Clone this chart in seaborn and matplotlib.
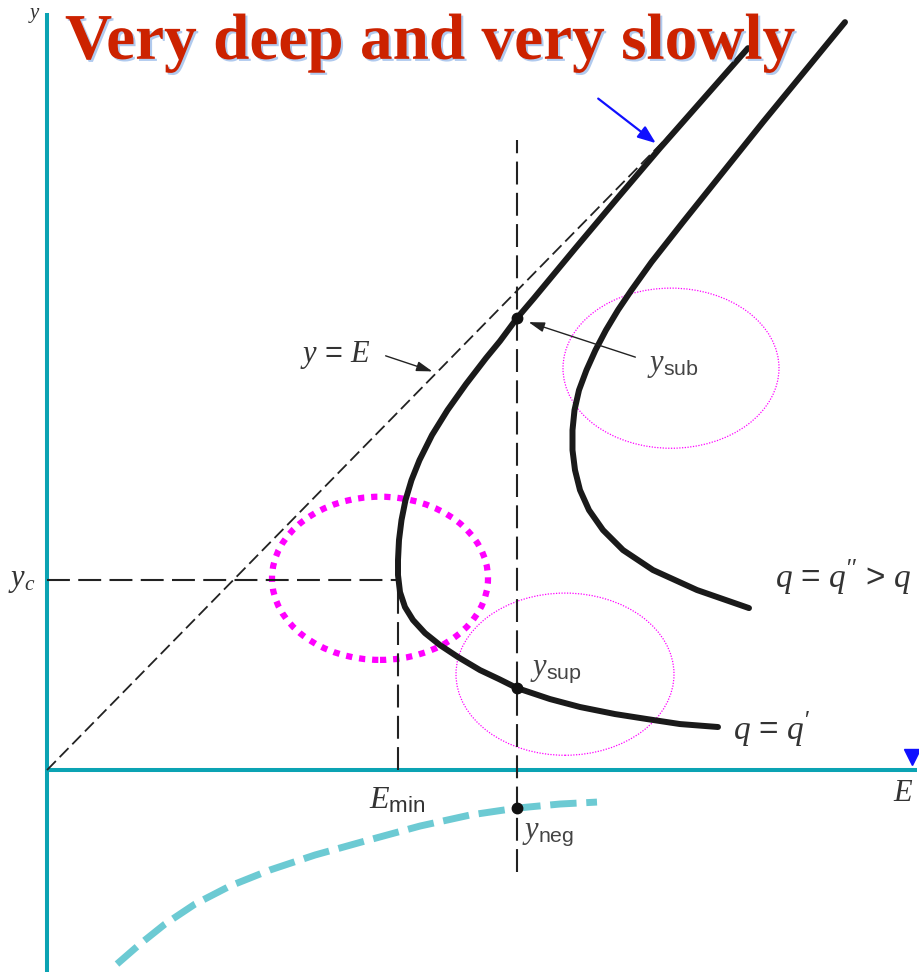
import matplotlib
matplotlib.use("Agg")
import matplotlib.pyplot as plt
import matplotlib.patheffects as pe
from matplotlib.patches import Ellipse
import pandas as pd
import seaborn as sns

# ---- specific-energy diagram data (E horizontal, depth y vertical) ----
# q = q' curve (upper = subcritical branch, lower = supercritical branch)
qp_E = [7.01, 6.57, 6.13, 5.705, 5.285, 4.87, 4.70, 4.53, 4.39, 4.19, 4.005, 3.85,
        3.725, 3.645, 3.585, 3.545, 3.52, 3.51, 3.51, 3.53, 3.58, 3.66, 3.78, 3.93,
        4.11, 4.33, 4.52, 4.70, 5.03, 5.33, 5.68, 6.00, 6.33, 6.71]
qp_y = [7.078, 6.588, 6.098, 5.608, 5.118, 4.627, 4.431, 4.206, 4.039, 3.784, 3.529,
        3.284, 3.039, 2.843, 2.647, 2.451, 2.255, 2.059, 1.912, 1.745, 1.598, 1.471,
        1.343, 1.225, 1.108, 0.980, 0.892, 0.804, 0.696, 0.618, 0.549, 0.500, 0.451,
        0.422]

# q = q'' curve
qpp_E = [7.98, 7.57, 7.16, 6.76, 6.36, 6.045, 5.845, 5.71, 5.59, 5.485, 5.395, 5.32,
         5.275, 5.255, 5.255, 5.28, 5.33, 5.42, 5.56, 5.76, 6.06, 6.50, 7.02]
qpp_y = [7.333, 6.843, 6.353, 5.863, 5.373, 4.980, 4.706, 4.510, 4.314, 4.118, 3.922,
         3.725, 3.529, 3.333, 3.137, 2.941, 2.745, 2.549, 2.353, 2.157, 1.961, 1.765,
         1.588]

# negative-depth branch
neg_E = [0.70, 0.93, 1.18, 1.48, 1.83, 2.23, 2.68, 3.18, 3.73, 4.23, 4.70, 5.13, 5.50]
neg_y = [-1.902, -1.706, -1.510, -1.314, -1.137, -0.980, -0.833, -0.696, -0.549,
         -0.441, -0.373, -0.333, -0.314]

# key values
E_min = 3.51
y_c = 1.86
E_sec = 4.70
y_sub, y_sup, y_neg = 4.431, 0.804, -0.373
yE_end = 6.27

# ---- style ----
sns.set_theme(style="white")
plt.rcParams["font.family"] = ["Liberation Serif", "DejaVu Sans"]
plt.rcParams["mathtext.fontset"] = "custom"
plt.rcParams["mathtext.it"] = "Liberation Serif:italic"
plt.rcParams["mathtext.rm"] = "Liberation Sans"
plt.rcParams["mathtext.sf"] = "Liberation Sans"
plt.rcParams["mathtext.bf"] = "Liberation Serif:bold"

AXIS_C = "#0ba3b3"
NEG_C = "#6ccad3"
CURVE_C = "#1a1a1a"
TXT_C = "#333333"
MAG = "#ff00ff"

fig = plt.figure(figsize=(9.2, 9.72), dpi=100)
ax = fig.add_axes([0, 0, 1, 1])
ax.set_xlim(-0.47, 8.73)
ax.set_ylim(-1.98, 7.55)
ax.axis("off")

# coordinate axes
ax.plot([0, 0], [-1.98, 7.42], color=AXIS_C, lw=2.9, solid_capstyle="butt", zorder=2)
ax.plot([0, 8.70], [0, 0], color=AXIS_C, lw=2.9, solid_capstyle="butt", zorder=2)
ax.plot([8.65], [0.13], marker="v", markersize=12, color="#1010ff", zorder=3,
        clip_on=False)

# y = E reference line and guide lines
ax.plot([0, yE_end], [0, yE_end], color="#222222", lw=1.3, dashes=[7, 3], zorder=3)
ax.plot([0, E_min], [y_c, y_c], color="#222222", lw=1.5, dashes=[11, 4], zorder=3)
ax.plot([E_min, E_min], [0, y_c], color="#222222", lw=1.5, dashes=[11, 4], zorder=3)
ax.plot([E_sec, E_sec], [-1.00, 6.18], color="#222222", lw=1.5, dashes=[11, 4], zorder=3)

# highlight ellipses
ax.add_patch(Ellipse((3.33, 1.88), 2.16, 1.60, fill=False, ec=MAG, lw=4.5,
                     linestyle=(0, (1, 1.1)), zorder=2))
ax.add_patch(Ellipse((6.24, 3.94), 2.16, 1.57, fill=False, ec=MAG, lw=0.9,
                     linestyle=(0, (1, 1.2)), zorder=2))
ax.add_patch(Ellipse((5.18, 0.94), 2.18, 1.59, fill=False, ec=MAG, lw=0.9,
                     linestyle=(0, (1, 1.2)), zorder=2))

# energy curves
curves = {
    "qp": pd.DataFrame({"E": qp_E, "y": qp_y}),
    "qpp": pd.DataFrame({"E": qpp_E, "y": qpp_y}),
}
for df in curves.values():
    sns.lineplot(data=df, x="E", y="y", sort=False, estimator=None, ax=ax,
                 color=CURVE_C, lw=4.3, solid_capstyle="round",
                 solid_joinstyle="round", zorder=4)

neg_df = pd.DataFrame({"E": neg_E, "y": neg_y})
sns.lineplot(data=neg_df, x="E", y="y", sort=False, estimator=None, ax=ax,
             color=NEG_C, lw=5, zorder=4)
ax.lines[-1].set_dashes([3.8, 1.4])
ax.lines[-1].set_dash_capstyle("butt")

# alternate depths
ax.plot([E_sec] * 3, [y_sub, y_sup, y_neg], "o", color="#111111", markersize=7.5, zorder=5)

ax.set_xlabel("")
ax.set_ylabel("")

# annotations
arrow_k = dict(arrowstyle="-|>,head_length=0.8,head_width=0.25", color="#222222", lw=1.0)
ax.annotate("", xy=(3.88, 3.90), xytext=(3.36, 4.07), arrowprops=arrow_k, zorder=5)
ax.annotate("", xy=(4.79, 4.40), xytext=(5.91, 4.04), arrowprops=arrow_k, zorder=5)
ax.annotate("", xy=(6.11, 6.13), xytext=(5.49, 6.60),
            arrowprops=dict(arrowstyle="-|>,head_length=0.9,head_width=0.35",
                            color="#1010ff", lw=1.6), zorder=6)

ax.text(2.53, 4.07, r"$y\,=\,E$", fontsize=22, color=TXT_C, ha="left", va="center")
ax.text(6.00, 3.97, r"$y_{\mathrm{sub}}$", fontsize=22, color="#444444", ha="left", va="center")
ax.text(4.83, 0.98, r"$y_{\mathrm{sup}}$", fontsize=22, color="#444444", ha="left", va="center")
ax.text(4.75, -0.62, r"$y_{\mathrm{neg}}$", fontsize=22, color="#444444", ha="left", va="center")
ax.text(3.50, -0.30, r"$E_{\mathrm{min}}$", fontsize=23, color=TXT_C, ha="center", va="center")
ax.text(-0.25, 1.86, r"$y_c$", fontsize=22, color=TXT_C, ha="center", va="center")
ax.text(-0.12, 7.40, r"$y$", fontsize=15, color=TXT_C, ha="center", va="center")
ax.text(8.56, -0.23, r"$E$", fontsize=22, color=TXT_C, ha="center", va="center")
ax.text(6.86, 0.39, r"$q\,=\,q'$", fontsize=24, color=TXT_C, ha="left", va="center")
ax.text(7.28, 1.88, r"$q\,=\,q''\,>\,q$", fontsize=24, color=TXT_C, ha="left", va="center")

title = ax.text(0.18, 7.13, "Very deep and very slowly", fontsize=47, fontweight="bold",
                color="#cc2200", ha="left", va="center", family="Liberation Serif",
                zorder=7)
title.set_path_effects([pe.withSimplePatchShadow(offset=(1.5, -1.5),
                                                 shadow_rgbFace="#8fb4e8", alpha=0.7)])

fig.savefig("out.png", dpi=100)
